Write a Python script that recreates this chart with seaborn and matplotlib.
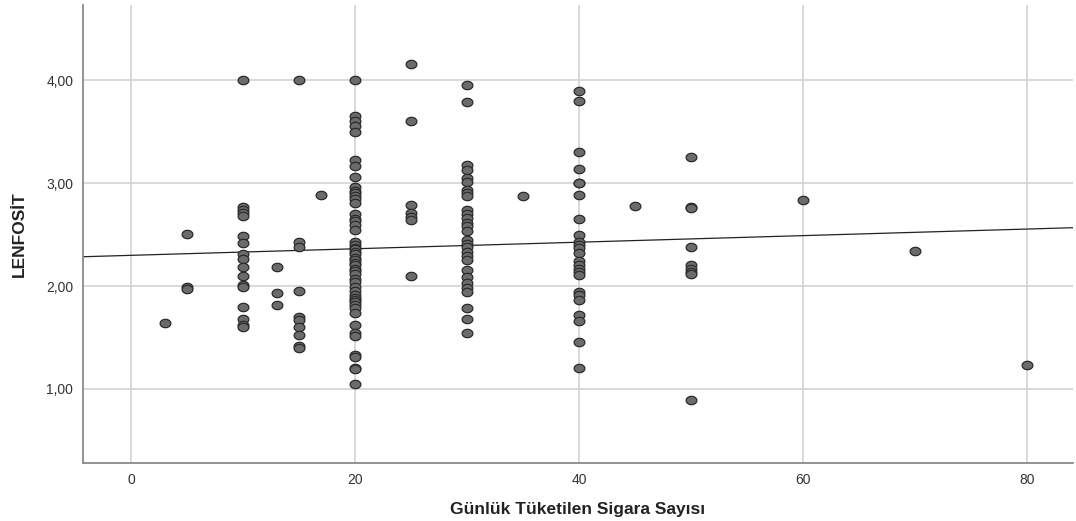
import numpy as np
import pandas as pd
import seaborn as sns
import matplotlib
matplotlib.use("Agg")
import matplotlib.pyplot as plt
from matplotlib.ticker import FuncFormatter

# Values, grouped by cigarettes per day
cig_3 = [1.64]
cig_5 = [2.51, 1.99, 1.97]
cig_10 = [4.00, 2.77, 2.74, 2.71, 2.68, 2.49, 2.42, 2.31, 2.26, 2.18, 2.10,
          2.01, 1.99, 1.80, 1.68, 1.62, 1.60]
cig_13 = [2.18, 1.93, 1.82]
cig_15 = [4.00, 2.43, 2.38, 1.95, 1.70, 1.67, 1.60, 1.52, 1.42, 1.40]
cig_17 = [2.88]
cig_20 = [4.00, 3.65, 3.60, 3.55, 3.50, 3.22, 3.17, 3.06, 2.96, 2.92, 2.90,
          2.87, 2.85, 2.81, 2.70, 2.65, 2.63, 2.59, 2.54, 2.43, 2.40, 2.37,
          2.36, 2.33, 2.31, 2.27, 2.25, 2.22, 2.20, 2.17, 2.15, 2.12, 2.07,
          2.04, 1.99, 1.95, 1.91, 1.88, 1.86, 1.84, 1.82, 1.79, 1.74, 1.62,
          1.54, 1.51, 1.33, 1.31, 1.20, 1.19, 1.05]
cig_25 = [4.16, 3.60, 2.79, 2.71, 2.67, 2.64, 2.10]
cig_30 = [3.95, 3.79, 3.18, 3.13, 3.05, 3.01, 2.93, 2.90, 2.87, 2.74, 2.70,
          2.66, 2.61, 2.58, 2.53, 2.45, 2.41, 2.38, 2.33, 2.29, 2.25, 2.16,
          2.09, 2.03, 1.98, 1.94, 1.79, 1.68, 1.54]
cig_35 = [2.87]
cig_40 = [3.89, 3.80, 3.30, 3.14, 3.00, 3.00, 2.88, 2.65, 2.50, 2.43, 2.40,
          2.37, 2.32, 2.24, 2.20, 2.17, 2.14, 2.11, 1.94, 1.91, 1.86, 1.72,
          1.66, 1.46, 1.20]
cig_45 = [2.78]
cig_50 = [3.25, 2.77, 2.76, 2.38, 2.20, 2.17, 2.14, 2.12, 0.89]
cig_60 = [2.84]
cig_70 = [2.34]
cig_80 = [1.23]

groups = {3: cig_3, 5: cig_5, 10: cig_10, 13: cig_13, 15: cig_15, 17: cig_17,
          20: cig_20, 25: cig_25, 30: cig_30, 35: cig_35, 40: cig_40,
          45: cig_45, 50: cig_50, 60: cig_60, 70: cig_70, 80: cig_80}

df = pd.DataFrame(
    [(k, v) for k, vals in groups.items() for v in vals],
    columns=["sigara", "lenfosit"],
)

sns.set_style("white")
plt.rcParams["font.family"] = ["Liberation Sans", "DejaVu Sans"]

fig = plt.figure(figsize=(10.76, 5.21), dpi=100)
ax = fig.add_axes([0.0771, 0.1113, 0.9199, 0.879])
ax.set_xlim(-4.3, 84.1)
ax.set_ylim(0.28, 4.73)

ax.set_axisbelow(True)
ax.grid(True, color="#cfcfcf", linewidth=1.1)

sns.regplot(data=df, x="sigara", y="lenfosit", scatter=False, ci=None,
            truncate=False, ax=ax, line_kws={"color": "#222222", "linewidth": 0.9})

# SPSS draws slightly flattened circles
t = np.linspace(0, 2 * np.pi, 40)
ellipse = np.column_stack([np.cos(t), 0.78 * np.sin(t)])
sns.scatterplot(data=df, x="sigara", y="lenfosit", ax=ax, s=60, marker=ellipse,
                color="#6b6b6b", edgecolor="#2b2b2b", linewidth=0.9, zorder=3)

ax.set_xticks([0, 20, 40, 60, 80])
ax.set_yticks([1, 2, 3, 4])
ax.yaxis.set_major_formatter(FuncFormatter(lambda v, p: f"{v:.2f}".replace(".", ",")))
ax.tick_params(length=0, labelsize=10, colors="#333333", pad=7)

for side in ["top", "right"]:
    ax.spines[side].set_visible(False)
for side in ["left", "bottom"]:
    ax.spines[side].set_color("#8a8a8a")
    ax.spines[side].set_linewidth(1.3)

ax.set_xlabel("Günlük Tüketilen Sigara Sayısı", fontsize=12.5, fontweight="bold",
              color="#222222", labelpad=11)
ax.set_ylabel("LENFOSİT", fontsize=12.5, fontweight="bold", color="#222222",
              labelpad=14)

fig.savefig("out.png", dpi=100)
